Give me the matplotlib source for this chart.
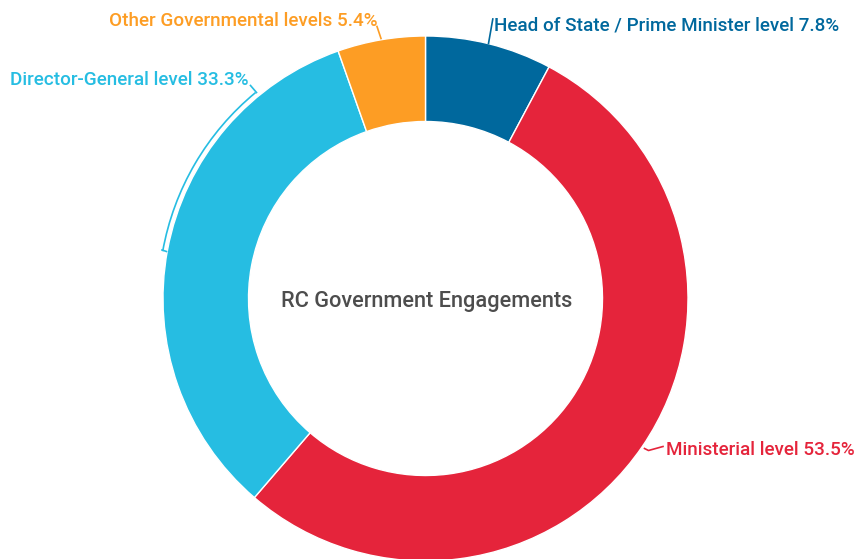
import matplotlib
matplotlib.use("Agg")
import matplotlib.pyplot as plt
from matplotlib.patches import Arc

plt.rcParams['font.family'] = ['Roboto', 'DejaVu Sans']

categories = ["Head of State / Prime Minister level", "Ministerial level",
              "Director-General level", "Other Governmental levels"]
values = [7.8, 53.5, 33.3, 5.4]
colors = ["#00689d", "#e5243b", "#26bde2", "#fd9d24"]
center_title = "RC Government Engagements"

W, H = 858, 559
fig = plt.figure(figsize=(W / 100, H / 100), dpi=100)
ax = fig.add_axes([0, 0, 1, 1])
ax.set_xlim(0, W)
ax.set_ylim(0, H)
ax.set_aspect('equal')
ax.axis('off')

def P(x, y):
    return x, H - y

cx, cy = P(425.5, 298.5)
R = 262.5
inner = 177

ax.pie(values, colors=colors, startangle=90, counterclock=False,
       center=(cx, cy), radius=R,
       wedgeprops=dict(width=R - inner, edgecolor='white', linewidth=1))
ax.set_xlim(0, W)
ax.set_ylim(0, H)

ax.text(cx + 1, cy - 3, center_title, ha='center', va='center', fontsize=15.7,
        color='#4d4d4d', fontweight='medium')

fs = 13.55
labels = [f"{c} {v}%" for c, v in zip(categories, values)]

# Head of State
ax.plot(*zip(P(488.5, 43.5), P(492.8, 19)), color=colors[0], lw=1.2)
ax.text(*P(493.5, 30.5), labels[0], ha='left', va='baseline', fontsize=fs,
        color=colors[0], fontweight='medium')

# Ministerial
ax.plot(*zip(P(644.5, 448.5), P(648.5, 450.5), P(663, 446.5)), color=colors[1], lw=1.2)
ax.text(*P(666.5, 455), labels[1], ha='left', va='baseline', fontsize=fs,
        color=colors[1], fontweight='medium')

# Director-General bracket
ax.add_patch(Arc((cx, cy), 2 * 267, 2 * 267, theta1=129.5, theta2=169.8,
                 color=colors[2], lw=1.2))
ax.plot(*zip(P(250.5, 85.5), P(256.5, 92.5)), color=colors[2], lw=1.2)
ax.plot(*zip(P(162, 250), P(166.5, 251.5)), color=colors[2], lw=1.2)
ax.text(*P(249, 85), labels[2], ha='right', va='baseline', fontsize=fs,
        color=colors[2], fontweight='medium')

# Other
ax.plot(*zip(P(377, 26.5), P(381, 38.5)), color=colors[3], lw=1.2)
ax.text(*P(377.5, 26), labels[3], ha='right', va='baseline', fontsize=fs,
        color=colors[3], fontweight='medium')

fig.savefig("out.png", dpi=100)
